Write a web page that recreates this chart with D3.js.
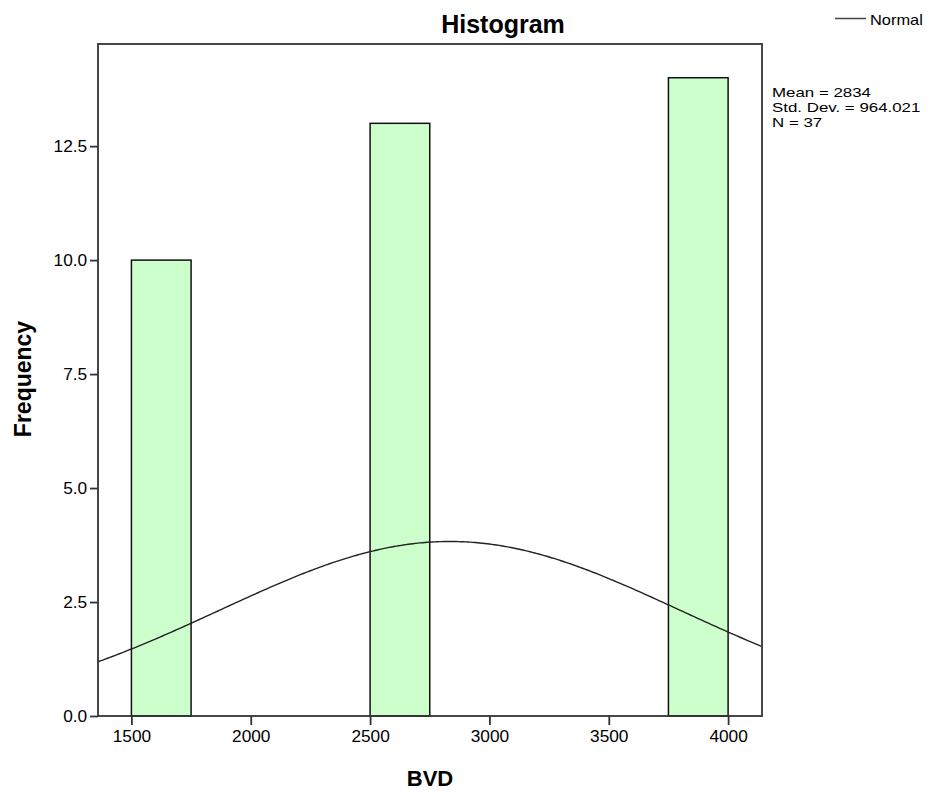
<!DOCTYPE html>
<html>
<head>
<meta charset="utf-8">
<script src="https://cdn.jsdelivr.net/npm/d3@7"></script>
<style>
  body { margin: 0; background: #fff; }
  svg text { font-family: "Liberation Sans", Arial, sans-serif; fill: #000; }
</style>
</head>
<body>
<svg id="chart" width="935" height="794"></svg>
<script>
// bins of BVD and their counts
const binStarts = [1500, 2500, 3750];
const binWidth = 250;
const counts = [10, 13, 14];
const yTicks = [0, 2.5, 5, 7.5, 10, 12.5];
const xTicks = [1500, 2000, 2500, 3000, 3500, 4000];
const statLines = ['Mean = 2834', 'Std. Dev. = 964.021', 'N = 37'];
const mean = 2834;
const sd = 964.021;
const n = 37;

const dims = { left: 98, right: 762, top: 44, bottom: 716 };

const svg = d3.select('#chart');

const x = d3.scaleLinear().domain([1360, 4142]).range([dims.left, dims.right]);
const y = d3.scaleLinear().domain([0, 14.74]).range([dims.bottom, dims.top]);

// bars
svg.append('g')
  .selectAll('rect')
  .data(binStarts.map((s, i) => ({ start: s, count: counts[i] })))
  .enter()
  .append('rect')
  .attr('x', d => x(d.start))
  .attr('y', d => y(d.count))
  .attr('width', d => x(d.start + binWidth) - x(d.start))
  .attr('height', d => y(0) - y(d.count))
  .attr('fill', '#ccffcc')
  .attr('stroke', '#111')
  .attr('stroke-width', 1.5);

// normal curve scaled to counts (N * bin width * density)
const curveXs = d3.range(1360, 4143, 10);
const density = v => n * binWidth * Math.exp(-0.5 * ((v - mean) / sd) ** 2) / (sd * Math.sqrt(2 * Math.PI));
svg.append('path')
  .datum(curveXs)
  .attr('fill', 'none')
  .attr('stroke', '#222')
  .attr('stroke-width', 1.4)
  .attr('d', d3.line().x(d => x(d)).y(d => y(density(d))));

// frame
svg.append('rect')
  .attr('x', dims.left)
  .attr('y', dims.top)
  .attr('width', dims.right - dims.left)
  .attr('height', dims.bottom - dims.top)
  .attr('fill', 'none')
  .attr('stroke', '#333')
  .attr('stroke-width', 1.8);

// axes (the source text is slightly wide, so stretch it a bit)
const yAxis = d3.axisLeft(y).tickValues(yTicks).tickFormat(d3.format('.1f')).tickSize(8).tickPadding(2);
const gy = svg.append('g').attr('transform', `translate(${dims.left},0)`).call(yAxis);
gy.select('.domain').remove();
gy.selectAll('line').attr('stroke', '#333').attr('stroke-width', 1.8);
gy.selectAll('text').style('font-size', '16px').attr('fill', '#222').attr('transform', 'scale(1.08,1)');

const xAxis = d3.axisBottom(x).tickValues(xTicks).tickFormat(d3.format('d')).tickSize(9).tickPadding(6);
const gx = svg.append('g').attr('transform', `translate(0,${dims.bottom})`).call(xAxis);
gx.select('.domain').remove();
gx.selectAll('line').attr('stroke', '#333').attr('stroke-width', 1.8);
gx.selectAll('text').style('font-size', '16px').attr('fill', '#222').attr('transform', 'scale(1.08,1)');

// titles
svg.append('text')
  .attr('x', 503).attr('y', 33)
  .attr('text-anchor', 'middle')
  .style('font-size', '25px').style('font-weight', 'bold')
  .text('Histogram');

svg.append('text')
  .attr('x', 430).attr('y', 786)
  .attr('text-anchor', 'middle')
  .style('font-size', '22px').style('font-weight', 'bold')
  .text('BVD');

svg.append('text')
  .attr('transform', 'translate(31,379) rotate(-90)')
  .attr('text-anchor', 'middle')
  .style('font-size', '23px').style('font-weight', 'bold')
  .text('Frequency');

// legend
svg.append('line')
  .attr('x1', 835).attr('x2', 866)
  .attr('y1', 18.5).attr('y2', 18.5)
  .attr('stroke', '#444').attr('stroke-width', 1.5);
svg.append('text')
  .attr('transform', 'translate(870,25) scale(1.13,1)')
  .style('font-size', '14.5px')
  .text('Normal');

svg.append('g')
  .selectAll('text')
  .data(statLines)
  .enter()
  .append('text')
  .attr('transform', (d, i) => `translate(772,${96.5 + i * 15}) scale(1.26,1)`)
  .style('font-size', '13.4px')
  .text(d => d);
</script>
</body>
</html>
